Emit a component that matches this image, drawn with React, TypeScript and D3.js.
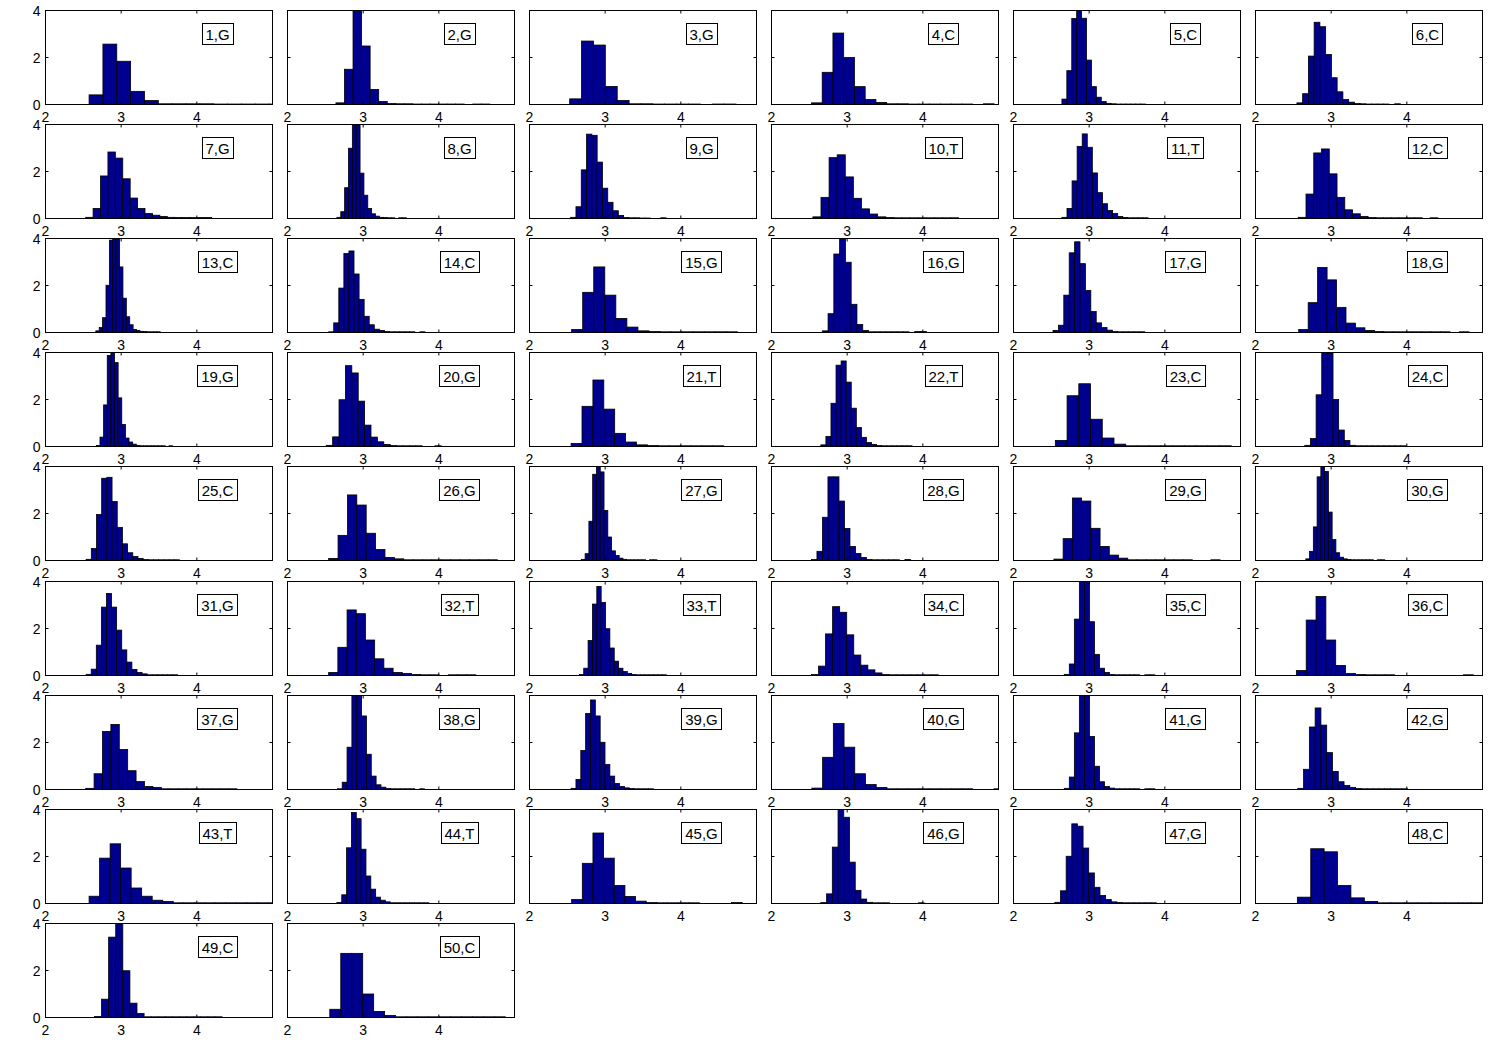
import React, { useEffect, useRef } from "react";
import * as d3 from "d3";

const labels = [
  "1,G", "2,G", "3,G", "4,C", "5,C", "6,C", "7,G", "8,G", "9,G", "10,T",
  "11,T", "12,C", "13,C", "14,C", "15,G", "16,G", "17,G", "18,G", "19,G", "20,G",
  "21,T", "22,T", "23,C", "24,C", "25,C", "26,G", "27,G", "28,G", "29,G", "30,G",
  "31,G", "32,T", "33,T", "34,C", "35,C", "36,C", "37,G", "38,G", "39,G", "40,G",
  "41,G", "42,G", "43,T", "44,T", "45,G", "46,G", "47,G", "48,C", "49,C", "50,C",
];

const binStarts = [
  2.576, 2.64, 2.531, 2.528, 2.64, 2.547, 2.531, 2.653, 2.544, 2.547,
  2.64, 2.565, 2.665, 2.544, 2.557, 2.671, 2.522, 2.571, 2.672, 2.512,
  2.55, 2.652, 2.553, 2.652, 2.537, 2.544, 2.685, 2.528, 2.534, 2.665,
  2.537, 2.544, 2.659, 2.528, 2.671, 2.54, 2.531, 2.659, 2.55, 2.534,
  2.671, 2.559, 2.576, 2.653, 2.557, 2.652, 2.547, 2.553, 2.647, 2.559,
];

const binWidths = [
  0.183, 0.113, 0.157, 0.142, 0.065, 0.076, 0.098, 0.051, 0.07, 0.107,
  0.067, 0.1025, 0.0448, 0.067, 0.146, 0.0764, 0.0714, 0.125, 0.048, 0.0845,
  0.144, 0.067, 0.155, 0.0745, 0.0685, 0.124, 0.05, 0.0727, 0.122, 0.0497,
  0.0672, 0.1216, 0.0576, 0.0932, 0.0665, 0.13, 0.111, 0.064, 0.064, 0.1416,
  0.0665, 0.0764, 0.139, 0.064, 0.1408, 0.0758, 0.0745, 0.177, 0.0937, 0.145,
];

const densities: number[][] = [
  [0.41, 2.57, 1.84, 0.56, 0.17, 0.03, 0.03, 0.03, 0.03, 0.02, 0.02, 0.02, 0.02, 0.02, 0.02],
  [0.07, 1.5, 4.3, 2.49, 0.64, 0.13, 0.04, 0.03, 0.03, 0.02, 0.02, 0.02, 0.02, 0.02, 0.02, 0, 0.02, 0.02],
  [0.24, 2.7, 2.53, 0.77, 0.17, 0.03, 0.03, 0.02, 0.02, 0.02, 0.02, 0, 0.02, 0.02],
  [0.07, 1.37, 3.04, 2.0, 0.76, 0.21, 0.09, 0.03, 0.03, 0.02, 0.02, 0.02, 0.02, 0.02, 0.02, 0, 0.03],
  [0.23, 1.44, 3.66, 4.3, 3.67, 1.89, 0.76, 0.31, 0.13, 0.05, 0.03, 0.02, 0.02, 0.02, 0.02, 0.02, 0.02],
  [0.07, 0.46, 2.06, 3.5, 3.31, 2.13, 1.14, 0.54, 0.21, 0.1, 0.04, 0.03, 0.02, 0.02, 0.02, 0.02, 0, 0.03],
  [0.05, 0.43, 1.81, 2.83, 2.57, 1.69, 0.87, 0.43, 0.21, 0.14, 0.09, 0.05, 0.04, 0.04, 0.04, 0.04, 0.04],
  [0.05, 0.29, 1.31, 2.99, 4.2, 4.1, 1.93, 0.99, 0.43, 0.2, 0.1, 0.05, 0.04, 0.03, 0.03, 0, 0.03, 0.03],
  [0.05, 0.5, 2.07, 3.59, 3.54, 2.4, 1.29, 0.69, 0.33, 0.13, 0.04, 0.03, 0.03, 0.02, 0.02, 0, 0, 0.03],
  [0.07, 0.9, 2.59, 2.71, 1.77, 0.86, 0.41, 0.19, 0.07, 0.04, 0.03, 0.03, 0.03, 0.03, 0.03, 0.03, 0.03, 0.03],
  [0.05, 0.43, 1.6, 3.07, 3.6, 3.03, 1.94, 1.1, 0.63, 0.34, 0.21, 0.09, 0.04, 0.03, 0.03, 0.03, 0.03],
  [0.05, 1.04, 2.79, 2.96, 1.9, 0.9, 0.37, 0.2, 0.09, 0.04, 0.03, 0.03, 0.03, 0.03, 0.03, 0.03, 0, 0.03],
  [0.07, 0.21, 0.63, 2.01, 3.93, 4.0, 4.2, 2.79, 1.46, 0.67, 0.33, 0.13, 0.09, 0.05, 0.04, 0.03, 0.03, 0.03, 0.03],
  [0.03, 0.41, 1.89, 3.36, 3.47, 2.49, 1.41, 0.69, 0.33, 0.14, 0.09, 0.04, 0.03, 0.03, 0.03, 0.03, 0.03, 0, 0.03],
  [0.13, 1.71, 2.79, 1.59, 0.6, 0.23, 0.07, 0.04, 0.03, 0.03, 0.03, 0.03, 0.03, 0.03, 0.03],
  [0.07, 0.8, 3.34, 4.2, 2.99, 1.2, 0.34, 0.09, 0.03, 0.03, 0.03, 0.03, 0.03, 0.03, 0.03, 0, 0.04, 0.04],
  [0.09, 0.31, 1.59, 3.39, 3.86, 2.93, 1.79, 0.89, 0.41, 0.21, 0.1, 0.04, 0.03, 0.03, 0.03, 0.03, 0.03],
  [0.13, 1.27, 2.77, 2.24, 1.07, 0.4, 0.2, 0.09, 0.04, 0.03, 0.03, 0.03, 0.03, 0.03, 0.03, 0.03, 0, 0.03],
  [0.04, 0.4, 1.77, 3.87, 4.1, 3.57, 2.07, 0.94, 0.36, 0.19, 0.1, 0.05, 0.03, 0.03, 0.03, 0.03, 0.03, 0.03, 0.03, 0, 0.03],
  [0.05, 0.41, 1.99, 3.44, 3.13, 1.93, 0.91, 0.4, 0.2, 0.09, 0.04, 0.03, 0.03, 0.03, 0.03, 0, 0, 0.03],
  [0.13, 1.71, 2.83, 1.59, 0.56, 0.19, 0.07, 0.04, 0.03, 0.03, 0.03, 0.03, 0.03, 0.03],
  [0.07, 0.43, 1.84, 3.46, 3.64, 2.74, 1.63, 0.81, 0.39, 0.17, 0.09, 0.04, 0.03, 0.03, 0.03, 0.03, 0.03, 0.03],
  [0.26, 2.16, 2.67, 1.16, 0.36, 0.1, 0.03, 0.03, 0.03, 0.03, 0.03, 0.03, 0.03, 0.03, 0.03],
  [0.05, 0.34, 2.2, 4.3, 4.1, 2.0, 0.7, 0.26, 0.05, 0.03, 0.03, 0.03, 0.03, 0.03, 0.03, 0.03, 0.03, 0.03],
  [0.05, 0.51, 1.96, 3.5, 3.54, 2.51, 1.41, 0.71, 0.33, 0.17, 0.09, 0.04, 0.03, 0.03, 0.03, 0.03, 0.03, 0.03],
  [0.09, 1.07, 2.79, 2.36, 1.16, 0.47, 0.13, 0.07, 0.03, 0.03, 0.03, 0.03, 0.03, 0.03, 0.03, 0.03, 0.03, 0.03],
  [0.05, 0.29, 1.67, 3.67, 4.0, 3.77, 2.13, 1.0, 0.41, 0.21, 0.1, 0.05, 0.03, 0.03, 0.03, 0.03, 0.03, 0, 0.03, 0.03],
  [0.04, 0.39, 1.84, 3.56, 3.56, 2.53, 1.36, 0.6, 0.3, 0.13, 0.04, 0.03, 0.03, 0.03, 0.03, 0.03, 0, 0.04],
  [0.06, 0.93, 2.66, 2.53, 1.37, 0.6, 0.23, 0.1, 0.03, 0.03, 0.03, 0.03, 0.03, 0.03, 0.03, 0, 0, 0.03],
  [0.07, 0.39, 1.43, 3.56, 4.2, 3.79, 2.06, 0.89, 0.33, 0.14, 0.07, 0.04, 0.03, 0.03, 0.03, 0.03, 0.03, 0.03, 0, 0.03, 0.03],
  [0.05, 0.27, 1.29, 2.91, 3.49, 2.91, 1.93, 1.09, 0.57, 0.26, 0.13, 0.07, 0.03, 0.03, 0.03, 0.03, 0.03, 0.03],
  [0.13, 1.2, 2.79, 2.63, 1.51, 0.71, 0.31, 0.13, 0.09, 0.04, 0.03, 0.03, 0, 0.03, 0.03, 0.03],
  [0.04, 0.31, 1.49, 3.04, 3.79, 3.11, 1.99, 1.17, 0.61, 0.31, 0.17, 0.09, 0.04, 0.03, 0.03, 0.03, 0.03, 0.03, 0.03, 0.03],
  [0.04, 0.4, 1.77, 2.93, 2.69, 1.73, 0.87, 0.44, 0.24, 0.11, 0.04, 0.03, 0.03, 0.03, 0.03, 0.03, 0.03, 0.03],
  [0.05, 0.49, 2.4, 4.3, 4.2, 2.29, 0.9, 0.31, 0.13, 0.04, 0.03, 0.03, 0.03, 0.03, 0.03, 0, 0.03, 0.03],
  [0.21, 2.36, 3.36, 1.51, 0.43, 0.09, 0.04, 0.03, 0.03, 0.03, 0, 0, 0, 0, 0, 0, 0, 0.03],
  [0.05, 0.67, 2.47, 2.77, 1.7, 0.8, 0.34, 0.13, 0.09, 0.03, 0.03, 0.03, 0.03, 0.03, 0.03, 0.03, 0.03, 0.03],
  [0.03, 0.31, 1.8, 4.3, 4.2, 3.13, 1.5, 0.57, 0.2, 0.1, 0.04, 0.03, 0.03, 0.03, 0.03, 0.03, 0, 0.03],
  [0.05, 0.43, 1.66, 3.23, 3.81, 3.13, 2.01, 1.06, 0.57, 0.26, 0.13, 0.07, 0.04, 0.03, 0.03, 0.03, 0.03],
  [0.06, 1.37, 2.81, 1.8, 0.67, 0.21, 0.09, 0.03, 0.03, 0.03, 0.03, 0.03, 0.03, 0.03, 0.03, 0, 0, 0.03],
  [0.05, 0.53, 2.41, 4.3, 4.2, 2.26, 0.99, 0.33, 0.13, 0.06, 0.03, 0.03, 0.03, 0.03, 0.03, 0, 0.03, 0.03],
  [0.05, 0.86, 2.66, 3.47, 2.74, 1.57, 0.77, 0.33, 0.17, 0.09, 0.04, 0.03, 0.03, 0.03, 0.03, 0.03, 0.03, 0.03, 0.03],
  [0.31, 1.93, 2.54, 1.51, 0.66, 0.31, 0.14, 0.09, 0.03, 0.03, 0.03, 0.03, 0.03, 0.03, 0.03, 0.03, 0.03, 0.03],
  [0.04, 0.37, 2.37, 3.87, 3.61, 2.31, 1.17, 0.61, 0.27, 0.14, 0.07, 0.03, 0.03, 0.03, 0.03, 0.03, 0.03, 0.03, 0.03],
  [0.17, 1.71, 3.0, 1.93, 0.77, 0.3, 0.1, 0.04, 0.03, 0.03, 0.03, 0.03, 0, 0, 0, 0.04],
  [0.04, 0.41, 2.4, 4.2, 3.67, 1.76, 0.56, 0.19, 0.05, 0.03, 0.03, 0.03, 0, 0, 0, 0, 0, 0.03],
  [0.05, 0.54, 2.01, 3.39, 3.29, 2.36, 1.3, 0.69, 0.34, 0.17, 0.07, 0.04, 0.03, 0.03, 0.03, 0.03, 0.03, 0.03],
  [0.27, 2.33, 2.2, 0.77, 0.24, 0.09, 0.03, 0.03, 0.03, 0.03, 0.03, 0.03, 0.03, 0.03],
  [0.04, 0.78, 3.42, 4.2, 1.99, 0.61, 0.17, 0.03, 0.03, 0.03, 0.03, 0.03, 0.03, 0.03, 0.03, 0.03, 0.03, 0.03],
  [0.35, 2.73, 2.73, 1.0, 0.26, 0.09, 0.03, 0.03, 0.03, 0.03, 0.03, 0.03, 0.03, 0.03, 0.03, 0.03],
];

const xTicks = [2, 3, 4];
const yTicks = [0, 2, 4];
const xDomain = [2, 5];
const yDomain = [0, 4];

export default function App() {
  const ref = useRef<SVGSVGElement>(null);

  useEffect(() => {
    const svg = d3.select(ref.current);
    svg.selectAll("*").remove();
    const W = 227;
    const H = 94;
    const nCols = 6;
    const tickLen = 3;
    const tickFont = "'Liberation Sans Narrow', 'Liberation Sans', Arial, sans-serif";
    const labelFont = "'Liberation Sans Narrow', 'Liberation Sans', Arial, sans-serif";

    const x = d3.scaleLinear().domain(xDomain).range([0, W]);
    const y = d3.scaleLinear().domain(yDomain).range([H, 0]);

    const defs = svg.append("defs");

    labels.forEach((lab, i) => {
      const c = i % nCols;
      const r = Math.floor(i / nCols);
      const left = 45.5 + 242 * c;
      const top = Math.round(10 + 114.1 * r) + 0.5;

      defs
        .append("clipPath")
        .attr("id", `clip${i}`)
        .append("rect")
        .attr("x", 0)
        .attr("y", 0)
        .attr("width", W)
        .attr("height", H);

      const g = svg.append("g").attr("transform", `translate(${left},${top})`);

      const bins = densities[i].map((h, k) => ({
        x0: binStarts[i] + k * binWidths[i],
        x1: binStarts[i] + (k + 1) * binWidths[i],
        h,
      })).filter((d) => d.h > 0);

      g.append("g")
        .attr("clip-path", `url(#clip${i})`)
        .selectAll("rect")
        .data(bins)
        .join("rect")
        .attr("x", (d) => x(d.x0))
        .attr("width", (d) => x(d.x1) - x(d.x0))
        .attr("y", (d) => y(d.h))
        .attr("height", (d) => y(0) - y(d.h))
        .attr("fill", "#00008F")
        .attr("stroke", "#000")
        .attr("stroke-width", 0.8);

      g.append("rect")
        .attr("x", 0)
        .attr("y", 0)
        .attr("width", W)
        .attr("height", H)
        .attr("fill", "none")
        .attr("stroke", "#000")
        .attr("stroke-width", 1);

      xTicks.forEach((t) => {
        g.append("line").attr("x1", x(t)).attr("x2", x(t)).attr("y1", 0).attr("y2", tickLen).attr("stroke", "#000");
        g.append("line").attr("x1", x(t)).attr("x2", x(t)).attr("y1", H).attr("y2", H - tickLen).attr("stroke", "#000");
        g.append("text")
          .attr("x", x(t))
          .attr("y", H + 17.5)
          .attr("text-anchor", "middle")
          .attr("font-family", tickFont)
          .attr("font-size", 14)
          .attr("fill", "#000")
          .text(String(t));
      });
      yTicks.forEach((t) => {
        g.append("line").attr("x1", 0).attr("x2", tickLen).attr("y1", y(t)).attr("y2", y(t)).attr("stroke", "#000");
        g.append("line").attr("x1", W).attr("x2", W - tickLen).attr("y1", y(t)).attr("y2", y(t)).attr("stroke", "#000");
        if (c === 0) {
          g.append("text")
            .attr("x", -5)
            .attr("y", y(t) + 5)
            .attr("text-anchor", "end")
            .attr("font-family", tickFont)
            .attr("font-size", 14)
            .attr("fill", "#000")
            .text(String(t));
        }
      });

      const cx = 172;
      const cy = 23.5;
      const lg = g.append("g");
      const rect = lg.append("rect").attr("fill", "#fff").attr("stroke", "#000").attr("stroke-width", 1);
      const txt = lg
        .append("text")
        .attr("x", cx)
        .attr("y", cy + 5.5)
        .attr("text-anchor", "middle")
        .attr("font-family", labelFont)
        .attr("font-size", 15)
        .attr("fill", "#000")
        .text(lab);
      const tw = (txt.node() as SVGTextElement).getComputedTextLength();
      const bw = Math.round(tw + 7);
      rect
        .attr("x", Math.round(cx - bw / 2))
        .attr("y", Math.round(cy - 10.5))
        .attr("width", bw)
        .attr("height", 21);
    });
  }, []);

  return (
    <svg
      ref={ref}
      width={1496}
      height={1047}
      style={{ position: "absolute", left: 0, top: 0, display: "block", background: "#fff" }}
    />
  );
}
